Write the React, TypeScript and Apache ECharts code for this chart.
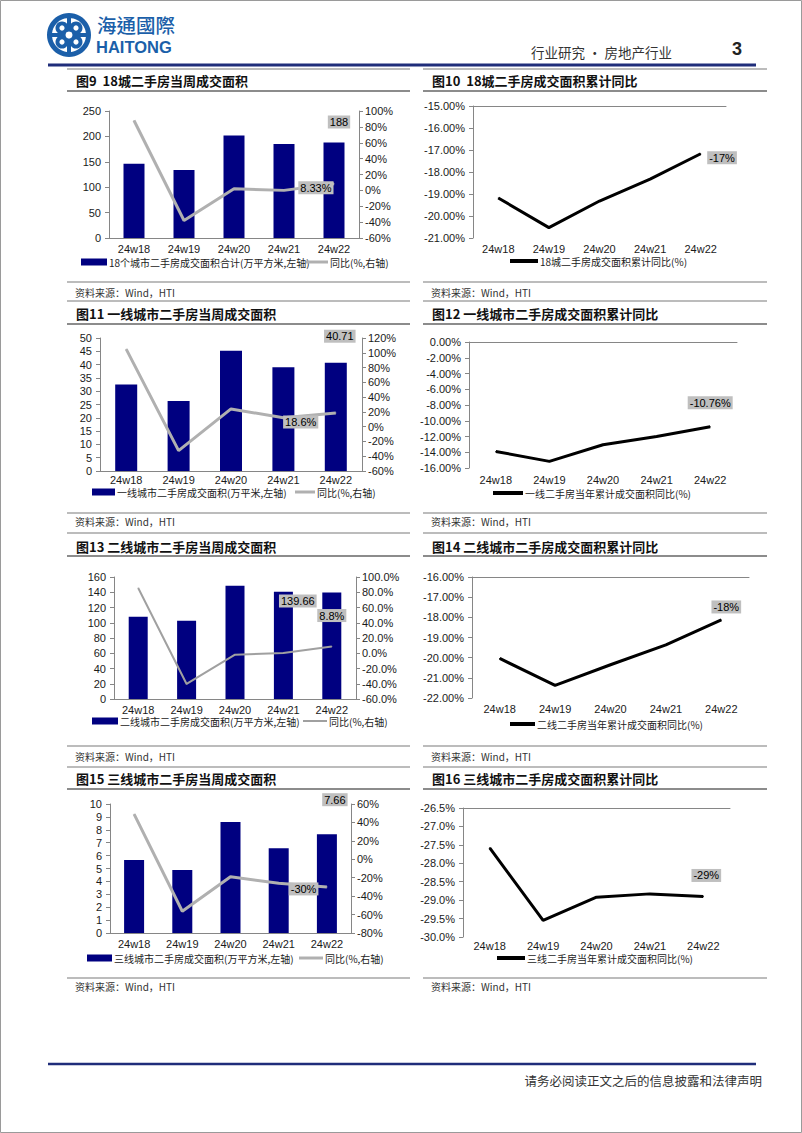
import React, { useEffect, useRef } from "react";
import * as echarts from "echarts";

const weeks = ["24w18", "24w19", "24w20", "24w21", "24w22"];

// 图9 / 图10 : 18城
const city18Area = [146, 134, 202, 185, 188];
const city18Yoy = [88, -38, 2, 0, 8.33];
const city18Cum = [-19.18, -20.53, -19.32, -18.32, -17.17];
// 图11 / 图12 : 一线
const tier1Area = [32.5, 26.3, 45.2, 39.0, 40.71];
const tier1Yoy = [105, -32.5, 24, 12, 18.6];
const tier1Cum = [-13.9, -15.16, -13.05, -12.0, -10.76];
// 图13 / 图14 : 二线
const tier2Area = [108, 102.7, 148.5, 140.8, 139.66];
const tier2Yoy = [85.6, -40.3, -1.9, 0.3, 8.8];
const tier2Cum = [-20.04, -21.37, -20.35, -19.37, -18.13];
// 图15 / 图16 : 三线
const tier3Area = [5.66, 4.88, 8.6, 6.57, 7.66];
const tier3Yoy = [49, -56.4, -18.9, -26, -30];
const tier3Cum = [-27.58, -29.55, -28.92, -28.83, -28.9];

const titles = [
  "图9\u00a0\u00a018城二手房当周成交面积",
  "图10\u00a0\u00a018城二手房成交面积累计同比",
  "图11 一线城市二手房当周成交面积",
  "图12 一线城市二手房成交面积累计同比",
  "图13 二线城市二手房当周成交面积",
  "图14 二线城市二手房成交面积累计同比",
  "图15 三线城市二手房当周成交面积",
  "图16 三线城市二手房成交面积累计同比",
];
const barNames = [
  "18个城市二手房成交面积合计(万平方米,左轴)",
  "一线城市二手房成交面积(万平米,左轴)",
  "二线城市二手房成交面积(万平方米,左轴)",
  "三线城市二手房成交面积(万平方米,左轴)",
];
const yoyName = "同比(%,右轴)";
const cumNames = [
  "18城二手房成交面积累计同比(%)",
  "一线二手房当年累计成交面积同比(%)",
  "二线二手房当年累计成交面积同比(%)",
  "三线二手房当年累计成交面积同比(%)",
];
const sourceText = "资料来源：Wind，HTI";

const NAVY = "#000080";
const AX = "#868686";
const LATIN = '"Liberation Sans", Arial, sans-serif';
const CJK = '"Noto Sans CJK SC", "Noto Sans", sans-serif';
const axisFont = { fontFamily: LATIN, fontSize: 11, color: "#1a1a1a" };
const tagBase = {
  show: true,
  backgroundColor: "#bfbfbf",
  color: "#000",
  fontFamily: LATIN,
  fontSize: 11,
  lineHeight: 11,
  padding: [1, 2],
};

function withTag(values: number[], label: any) {
  return values.map((v, i) =>
    i === values.length - 1 ? { value: v, label: { ...tagBase, ...label } } : v
  );
}

const roundPct = (p: any) => Math.round(p.value) + "%";

function buildOption() {
  const option: any = {
    animation: false,
    grid: [],
    xAxis: [],
    yAxis: [],
    series: [],
    legend: [],
    graphic: [],
  };

  const addLegend = (left: number, cy: number, name: string, w: number, h: number, color: string) => {
    option.legend.push({
      left,
      top: cy - 7,
      padding: 0,
      itemGap: 0,
      itemWidth: w,
      itemHeight: h,
      icon: "rect",
      selectedMode: false,
      data: [{ name, icon: "rect", itemStyle: { color } }],
      textStyle: { fontFamily: CJK, fontSize: 10, color: "#222", padding: [0, 0, 0, -3] },
    });
  };

  const addBarPanel = (p: any) => {
    const gi = option.grid.length;
    option.grid.push({ ...p.box });
    const xi = option.xAxis.length;
    option.xAxis.push({
      type: "category",
      gridIndex: gi,
      data: weeks,
      axisLine: { onZero: false, lineStyle: { color: AX } },
      axisTick: { length: 4, lineStyle: { color: AX } },
      axisLabel: { ...axisFont, margin: p.labelMargin ?? 5 },
    });
    const yi = option.yAxis.length;
    option.yAxis.push({
      type: "value",
      gridIndex: gi,
      position: "left",
      min: p.left[0],
      max: p.left[1],
      interval: p.left[2],
      axisLine: { show: true, lineStyle: { color: AX } },
      axisTick: { show: true, length: 4, lineStyle: { color: AX } },
      splitLine: { show: false },
      axisLabel: { ...axisFont, margin: 8 },
    });
    option.yAxis.push({
      type: "value",
      gridIndex: gi,
      position: "right",
      min: p.right[0],
      max: p.right[1],
      interval: p.right[2],
      axisLine: { show: true, lineStyle: { color: AX } },
      axisTick: { show: true, length: 4, lineStyle: { color: AX } },
      splitLine: { show: false },
      axisLabel: { ...axisFont, margin: 6, formatter: p.rightFmt },
    });
    option.series.push({
      type: "bar",
      name: p.barName,
      xAxisIndex: xi,
      yAxisIndex: yi,
      barWidth: p.barWidth,
      itemStyle: { color: NAVY },
      data: withTag(p.bars, p.barLabel),
    });
    option.series.push({
      type: "line",
      name: yoyName,
      xAxisIndex: xi,
      yAxisIndex: yi + 1,
      symbol: "circle",
      symbolSize: 1,
      showSymbol: true,
      lineStyle: { color: p.lineColor, width: p.lineWidth },
      itemStyle: { color: p.lineColor },
      z: 3,
      data: withTag(p.yoy, p.lineLabel),
    });
    addLegend(p.leg[0], p.leg[1], p.barName, p.leg[2], 7, NAVY);
    addLegend(p.leg[3], p.leg[1], yoyName, p.leg[4], p.lineWidth, p.lineColor);
  };

  const addLinePanel = (p: any) => {
    const gi = option.grid.length;
    option.grid.push({ ...p.box });
    const xi = option.xAxis.length;
    option.xAxis.push({
      type: "category",
      gridIndex: gi,
      data: weeks,
      position: "top",
      axisLine: { onZero: false, lineStyle: { color: AX } },
      axisTick: { length: 4, lineStyle: { color: AX } },
      axisLabel: { show: false },
    });
    option.xAxis.push({
      type: "category",
      gridIndex: gi,
      data: weeks,
      position: "bottom",
      axisLine: { show: false, onZero: false },
      axisTick: { show: false },
      axisLabel: { ...axisFont, margin: p.labelMargin },
    });
    const yi = option.yAxis.length;
    option.yAxis.push({
      type: "value",
      gridIndex: gi,
      min: p.range[0],
      max: p.range[1],
      interval: p.range[2],
      axisLine: { show: true, lineStyle: { color: AX } },
      axisTick: { show: true, length: 4, lineStyle: { color: AX } },
      splitLine: { show: false },
      axisLabel: { ...axisFont, margin: 8, formatter: p.fmt },
    });
    option.series.push({
      type: "line",
      name: p.name,
      xAxisIndex: xi + 1,
      yAxisIndex: yi,
      symbol: "circle",
      symbolSize: 1,
      showSymbol: true,
      lineStyle: { color: "#000", width: 3 },
      itemStyle: { color: "#000" },
      data: withTag(p.values, p.label),
    });
    addLegend(p.leg[0], p.leg[1], p.name, p.leg[2], 4, "#000");
  };

  // 图9
  addBarPanel({
    box: { left: 109, top: 111, width: 250, height: 127 },
    left: [0, 250, 50],
    right: [-60, 100, 20],
    rightFmt: "{value}%",
    bars: city18Area,
    yoy: city18Yoy,
    barName: barNames[0],
    barWidth: 21,
    lineColor: "#b0b0b0",
    lineWidth: 3,
    barLabel: { position: "top", distance: 14, offset: [5, 0], formatter: "{c}" },
    lineLabel: { position: "left", distance: 0, offset: [0, 4], formatter: "{c}%" },
    leg: [81, 264, 26, 306, 22],
  });
  // 图10
  addLinePanel({
    box: { left: 473, top: 106, width: 253, height: 132 },
    range: [-21, -15, 1],
    fmt: (v: number) => v.toFixed(2) + "%",
    values: city18Cum,
    name: cumNames[0],
    labelMargin: 5,
    label: { position: "right", distance: 6, offset: [0, 4], formatter: roundPct },
    leg: [510, 263, 28],
  });
  // 图11
  addBarPanel({
    box: { left: 100, top: 338, width: 262, height: 133 },
    left: [0, 50, 5],
    right: [-60, 120, 20],
    rightFmt: "{value}%",
    bars: tier1Area,
    yoy: tier1Yoy,
    barName: barNames[1],
    barWidth: 22,
    lineColor: "#b0b0b0",
    lineWidth: 3,
    labelMargin: 3,
    barLabel: { position: "top", distance: 20, offset: [4, 0], formatter: "{c}" },
    lineLabel: { position: "left", distance: 17, offset: [0, 9], formatter: "{c}%" },
    leg: [92, 494, 23, 295, 20],
  });
  // 图12
  addLinePanel({
    box: { left: 469, top: 342, width: 268, height: 126 },
    range: [-16, 0, 2],
    fmt: (v: number) => v.toFixed(2) + "%",
    values: tier1Cum,
    name: cumNames[1],
    labelMargin: 6,
    label: { position: "top", distance: 17, formatter: "{c}%" },
    leg: [493, 495, 30],
  });
  // 图13
  addBarPanel({
    box: { left: 114, top: 577, width: 242, height: 122 },
    left: [0, 160, 20],
    right: [-60, 100, 20],
    rightFmt: (v: number) => v.toFixed(1) + "%",
    bars: tier2Area,
    yoy: tier2Yoy,
    barName: barNames[2],
    barWidth: 19,
    lineColor: "#a0a0a0",
    lineWidth: 2,
    barLabel: { position: "top", distance: 0, offset: [-34, 15], formatter: "{c}" },
    lineLabel: { position: "top", distance: 24, formatter: "{c}%" },
    leg: [92, 723, 26, 303, 24],
  });
  // 图14
  addLinePanel({
    box: { left: 472, top: 577, width: 277, height: 121 },
    range: [-22, -16, 1],
    fmt: (v: number) => v.toFixed(2) + "%",
    values: tier2Cum,
    name: cumNames[2],
    labelMargin: 5,
    label: { position: "top", distance: 6, offset: [5, 0], formatter: roundPct },
    leg: [510, 726, 25],
  });
  // 图15
  addBarPanel({
    box: { left: 110, top: 804, width: 241, height: 129 },
    left: [0, 10, 1],
    right: [-80, 60, 20],
    rightFmt: "{value}%",
    bars: tier3Area,
    yoy: tier3Yoy,
    barName: barNames[3],
    barWidth: 20,
    lineColor: "#b0b0b0",
    lineWidth: 3,
    barLabel: { position: "top", distance: 28, offset: [8, 0], formatter: "{c}" },
    lineLabel: { position: "left", distance: 8, offset: [0, 2], formatter: "{c}%" },
    leg: [87, 960, 25, 299, 24],
  });
  // 图16
  addLinePanel({
    box: { left: 463, top: 808, width: 267, height: 129 },
    range: [-30, -26.5, 0.5],
    fmt: (v: number) => v.toFixed(1) + "%",
    values: tier3Cum,
    name: cumNames[3],
    labelMargin: 3,
    label: { position: "top", distance: 14, offset: [3, 0], formatter: roundPct },
    leg: [497, 960, 28],
  });

  // ---------- page decoration ----------
  const g: any[] = option.graphic;
  const txt = (x: number, y: number, text: string, size: number, family: string, opts: any = {}) => ({
    type: "text",
    x,
    y,
    silent: true,
    style: {
      text,
      fill: opts.fill || "#222",
      fontSize: size,
      lineHeight: opts.lineHeight || undefined,
      fontFamily: family,
      fontWeight: opts.weight || "normal",
      align: opts.align || "left",
      textAlign: opts.align || "left",
      verticalAlign: "middle",
      textVerticalAlign: "middle",
    },
  });
  const hl = (x1: number, x2: number, y: number, stroke: string, lw: number) => ({
    type: "line",
    silent: true,
    shape: { x1, y1: y, x2, y2: y },
    style: { stroke, lineWidth: lw },
  });

  g.push({
    type: "rect",
    silent: true,
    shape: { x: 0.5, y: 0.5, width: 801, height: 1132 },
    style: { fill: "none", stroke: "#9a9a9a", lineWidth: 1 },
  });

  // logo
  const LB = "#1b5fa9";
  g.push({ type: "circle", silent: true, shape: { cx: 69, cy: 35, r: 22 }, style: { fill: LB } });
  g.push({ type: "circle", silent: true, shape: { cx: 69, cy: 35, r: 17 }, style: { fill: "#fff" } });
  [[-7, -7], [7, -7], [-7, 7], [7, 7]].forEach(([dx, dy]) => {
    g.push({ type: "circle", silent: true, shape: { cx: 69 + dx, cy: 35 + dy, r: 6.5 }, style: { fill: LB } });
    g.push({ type: "circle", silent: true, shape: { cx: 69 + dx, cy: 35 + dy, r: 2.6 }, style: { fill: "#fff" } });
  });
  g.push({ type: "rect", silent: true, shape: { x: 67, y: 16, width: 4, height: 38 }, style: { fill: LB } });
  g.push({ type: "rect", silent: true, shape: { x: 50, y: 33, width: 38, height: 4 }, style: { fill: LB } });
  g.push({ type: "circle", silent: true, shape: { cx: 69, cy: 35, r: 3.5 }, style: { fill: "#fff" } });
  g.push(txt(97, 24, "海通國際", 19.5, '"Noto Sans CJK TC", "Noto Sans CJK SC", sans-serif', { fill: LB, weight: 500, lineHeight: 19.5 }));
  g.push(txt(96, 47, "HAITONG", 16.5, LATIN, { fill: LB, weight: "bold", lineHeight: 16.5 }));

  g.push(txt(672, 52, "行业研究 • 房地产行业", 13.5, CJK, { align: "right", fill: "#333" }));
  g.push(txt(737, 49, "3", 18, LATIN, { align: "center", weight: "bold", fill: "#222" }));
  g.push(hl(48, 756, 65, "#1f2d7a", 3));

  // panels
  const colsX = [
    [67, 410],
    [423, 767],
  ];
  const rowsY = [
    { top: 69, title: 80, under: 91, src: 282, srcText: 292 },
    { top: 301, title: 313, under: 324, src: 513, srcText: 521 },
    { top: 533, title: 546, under: 556, src: 746, srcText: 756 },
    { top: 767, title: 778, under: 789, src: 978, srcText: 986 },
  ];
  rowsY.forEach((r, ri) => {
    colsX.forEach(([x1, x2], ci) => {
      g.push(hl(x1, x2, r.top, "#a6a6a6", 1.5));
      g.push(hl(x1, x2, r.under, "#8c8c8c", 2));
      g.push(hl(x1, x2, r.src, "#a6a6a6", 1.5));
      g.push(txt(x1 + 9, r.title, titles[ri * 2 + ci], 13, CJK, { weight: "bold", fill: "#111" }));
      g.push(txt(x1 + 8, r.srcText, sourceText, 10, CJK, { fill: "#333" }));
    });
  });

  // footer
  g.push(hl(48, 756, 1064, "#1f2d7a", 2.5));
  g.push(txt(762, 1080, "请务必阅读正文之后的信息披露和法律声明", 12.5, CJK, { align: "right", fill: "#333" }));

  return option;
}

export default function App() {
  const ref = useRef<HTMLDivElement>(null);
  useEffect(() => {
    if (!ref.current) return;
    const chart = echarts.init(ref.current, undefined, { renderer: "svg" });
    chart.setOption(buildOption());
    return () => chart.dispose();
  }, []);
  return (
    <div
      ref={ref}
      style={{ position: "absolute", left: 0, top: 0, width: 802, height: 1133, background: "#fff" }}
    />
  );
}
